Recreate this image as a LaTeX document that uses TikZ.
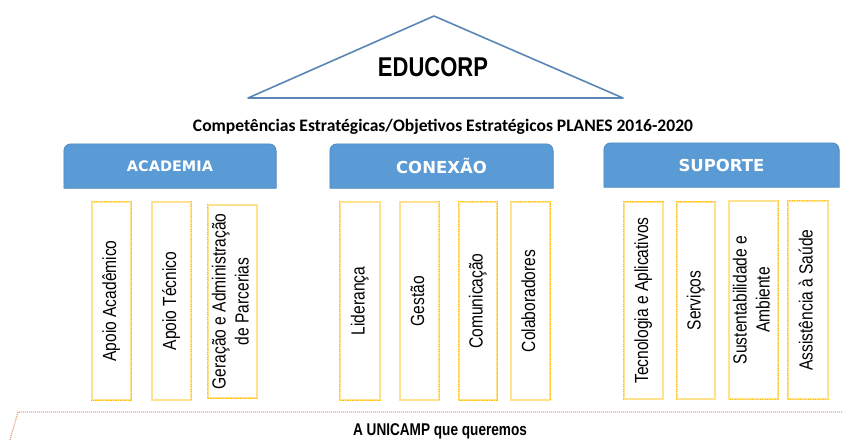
\documentclass[tikz,border=0pt]{standalone}
\usepackage{fontspec}
\usepackage{graphicx}
\usetikzlibrary{backgrounds}
\setmainfont{Liberation Sans}
\newfontfamily\narrowfont[FakeStretch=0.82]{Liberation Sans}
\newfontfamily\narrowbold[FakeStretch=0.8]{Liberation Sans Bold}
\newfontfamily\dejavu{DejaVu Sans}
\newfontfamily\carlito{Carlito}
\definecolor{hdrblue}{HTML}{5B9BD5}
\definecolor{hdredge}{HTML}{4A84BC}
\definecolor{roofblue}{HTML}{5A86B5}
\definecolor{lyellow}{HTML}{FFE28F}
\definecolor{gold}{HTML}{FFC000}
\definecolor{peach}{HTML}{E9A583}
\newcommand\vtext[1]{\rotatebox{90}{\narrowfont\fontsize{19}{23}\selectfont\begin{tabular}{@{}c@{}}#1\end{tabular}}}
\tikzset{
  ybox/.style={draw=lyellow, line width=1.4pt, inner sep=0pt, minimum width=#1},
  ybox/.default=39pt,
  dots/.style={draw=gold, line width=1.4pt, dash pattern=on 1.1pt off 1.4pt},
  header/.style={inner sep=0pt, minimum height=44pt, text=white, font=\dejavu\bfseries},
  hdrshape/.style={fill=hdrblue, draw=hdredge, line width=0.6pt},
}
\begin{document}
\begin{tikzpicture}[x=1pt, y=-1pt]
\useasboundingbox (0,0) rectangle (843,440);
% roof
\coordinate (rl) at (248,98);
\coordinate (rt) at (434,16);
\coordinate (rr) at (623,98);
\draw[roofblue, line width=1.6pt, line join=round] (rl) -- (rt) -- (rr) -- cycle;
\node[inner sep=0pt] (edu) at (433,67) {\resizebox{110pt}{19pt}{\bfseries EDUCORP}};
% title
\node[inner sep=0pt] (title) at (443,127) {\resizebox{500pt}{!}{\carlito\bfseries Competências Estratégicas/Objetivos Estratégicos PLANES 2016-2020}};
% headers
\node[header, minimum width=212pt] (hA) at (170,166) {\fontsize{14.5}{16}\selectfont ACADEMIA};
\node[header, minimum width=223pt] (hC) at (441.5,166) {\fontsize{16.5}{18}\selectfont CONEXÃO};
\node[header, minimum width=235pt] (hS) at (721.5,165) {\fontsize{16.5}{18}\selectfont SUPORTE};
\begin{scope}[on background layer]
\foreach \h in {hA,hC,hS}{
  \draw[hdrshape] (\h.south west) [rounded corners=7pt] -- (\h.north west) -- (\h.north east) [sharp corners] -- (\h.south east) -- cycle;
}
\end{scope}
% boxes
\node[ybox, minimum height=198pt] (b1) at (111.5,301) {\vtext{Apoio Acadêmico}};
\node[ybox, minimum height=198pt] (b2) at (171.5,301) {\vtext{Apoio Técnico}};
\node[ybox=49pt, minimum height=193pt] (b3) at (232.5,301.5) {\vtext{Geração e Administração\\de Parcerias}};
\node[ybox=40pt, minimum height=198pt] (b4) at (360,301) {\vtext{Liderança}};
\node[ybox, minimum height=198pt] (b5) at (419.5,301) {\vtext{Gestão}};
\node[ybox=38pt, minimum height=198pt] (b6) at (478,301) {\vtext{Comunicação}};
\node[ybox, minimum height=198pt] (b7) at (530.5,301) {\vtext{Colaboradores}};
\node[ybox, minimum height=197pt] (b8) at (643.5,300.5) {\vtext{Tecnologia e Aplicativos}};
\node[ybox=38pt, minimum height=197pt] (b9) at (696,300.5) {\vtext{Serviços}};
\node[ybox=49pt, minimum height=198pt] (b10) at (753.5,300) {\vtext{Sustentabilidade e\\Ambiente}};
\node[ybox=40pt, minimum height=198pt] (b11) at (808,300) {\vtext{Assistência à Saúde}};
% dotted sides
\draw[dots] (b1.north west) -- (b1.north east) -- (b1.south east) -- (b1.south west);
\draw[dots] (b2.north east) -- (b2.south east);
\draw[dots] (b3.north west) -- (b3.south west) -- (b3.south east);
\draw[dots] (b4.north west) -- (b4.south west) -- (b4.south east);
\draw[dots] (b5.north east) -- (b5.south east);
\draw[dots] (b6.north west) rectangle (b6.south east);
\draw[dots] (b7.north west) -- (b7.north east) -- (b7.south east);
\draw[dots] (b8.south west) -- (b8.north west) -- (b8.north east);
\draw[dots] (b9.south west) -- (b9.north west) -- (b9.north east);
\draw[dots] (b10.north east) -- (b10.south east) -- (b10.south west);
\draw[dots] (b11.south east) -- (b11.south west) -- (b11.north west) -- (b11.north east);
% bottom band
\coordinate (bl) at (18,412);
\coordinate (br) at (843,412);
\coordinate (bb) at (10,440);
\draw[peach, line width=1.4pt, dash pattern=on 1pt off 1pt] (bb) -- (bl) -- (br);
\node[inner sep=0pt] (goal) at (440,431) {\narrowbold\fontsize{17}{19}\selectfont A UNICAMP que queremos};
\end{tikzpicture}
\end{document}
